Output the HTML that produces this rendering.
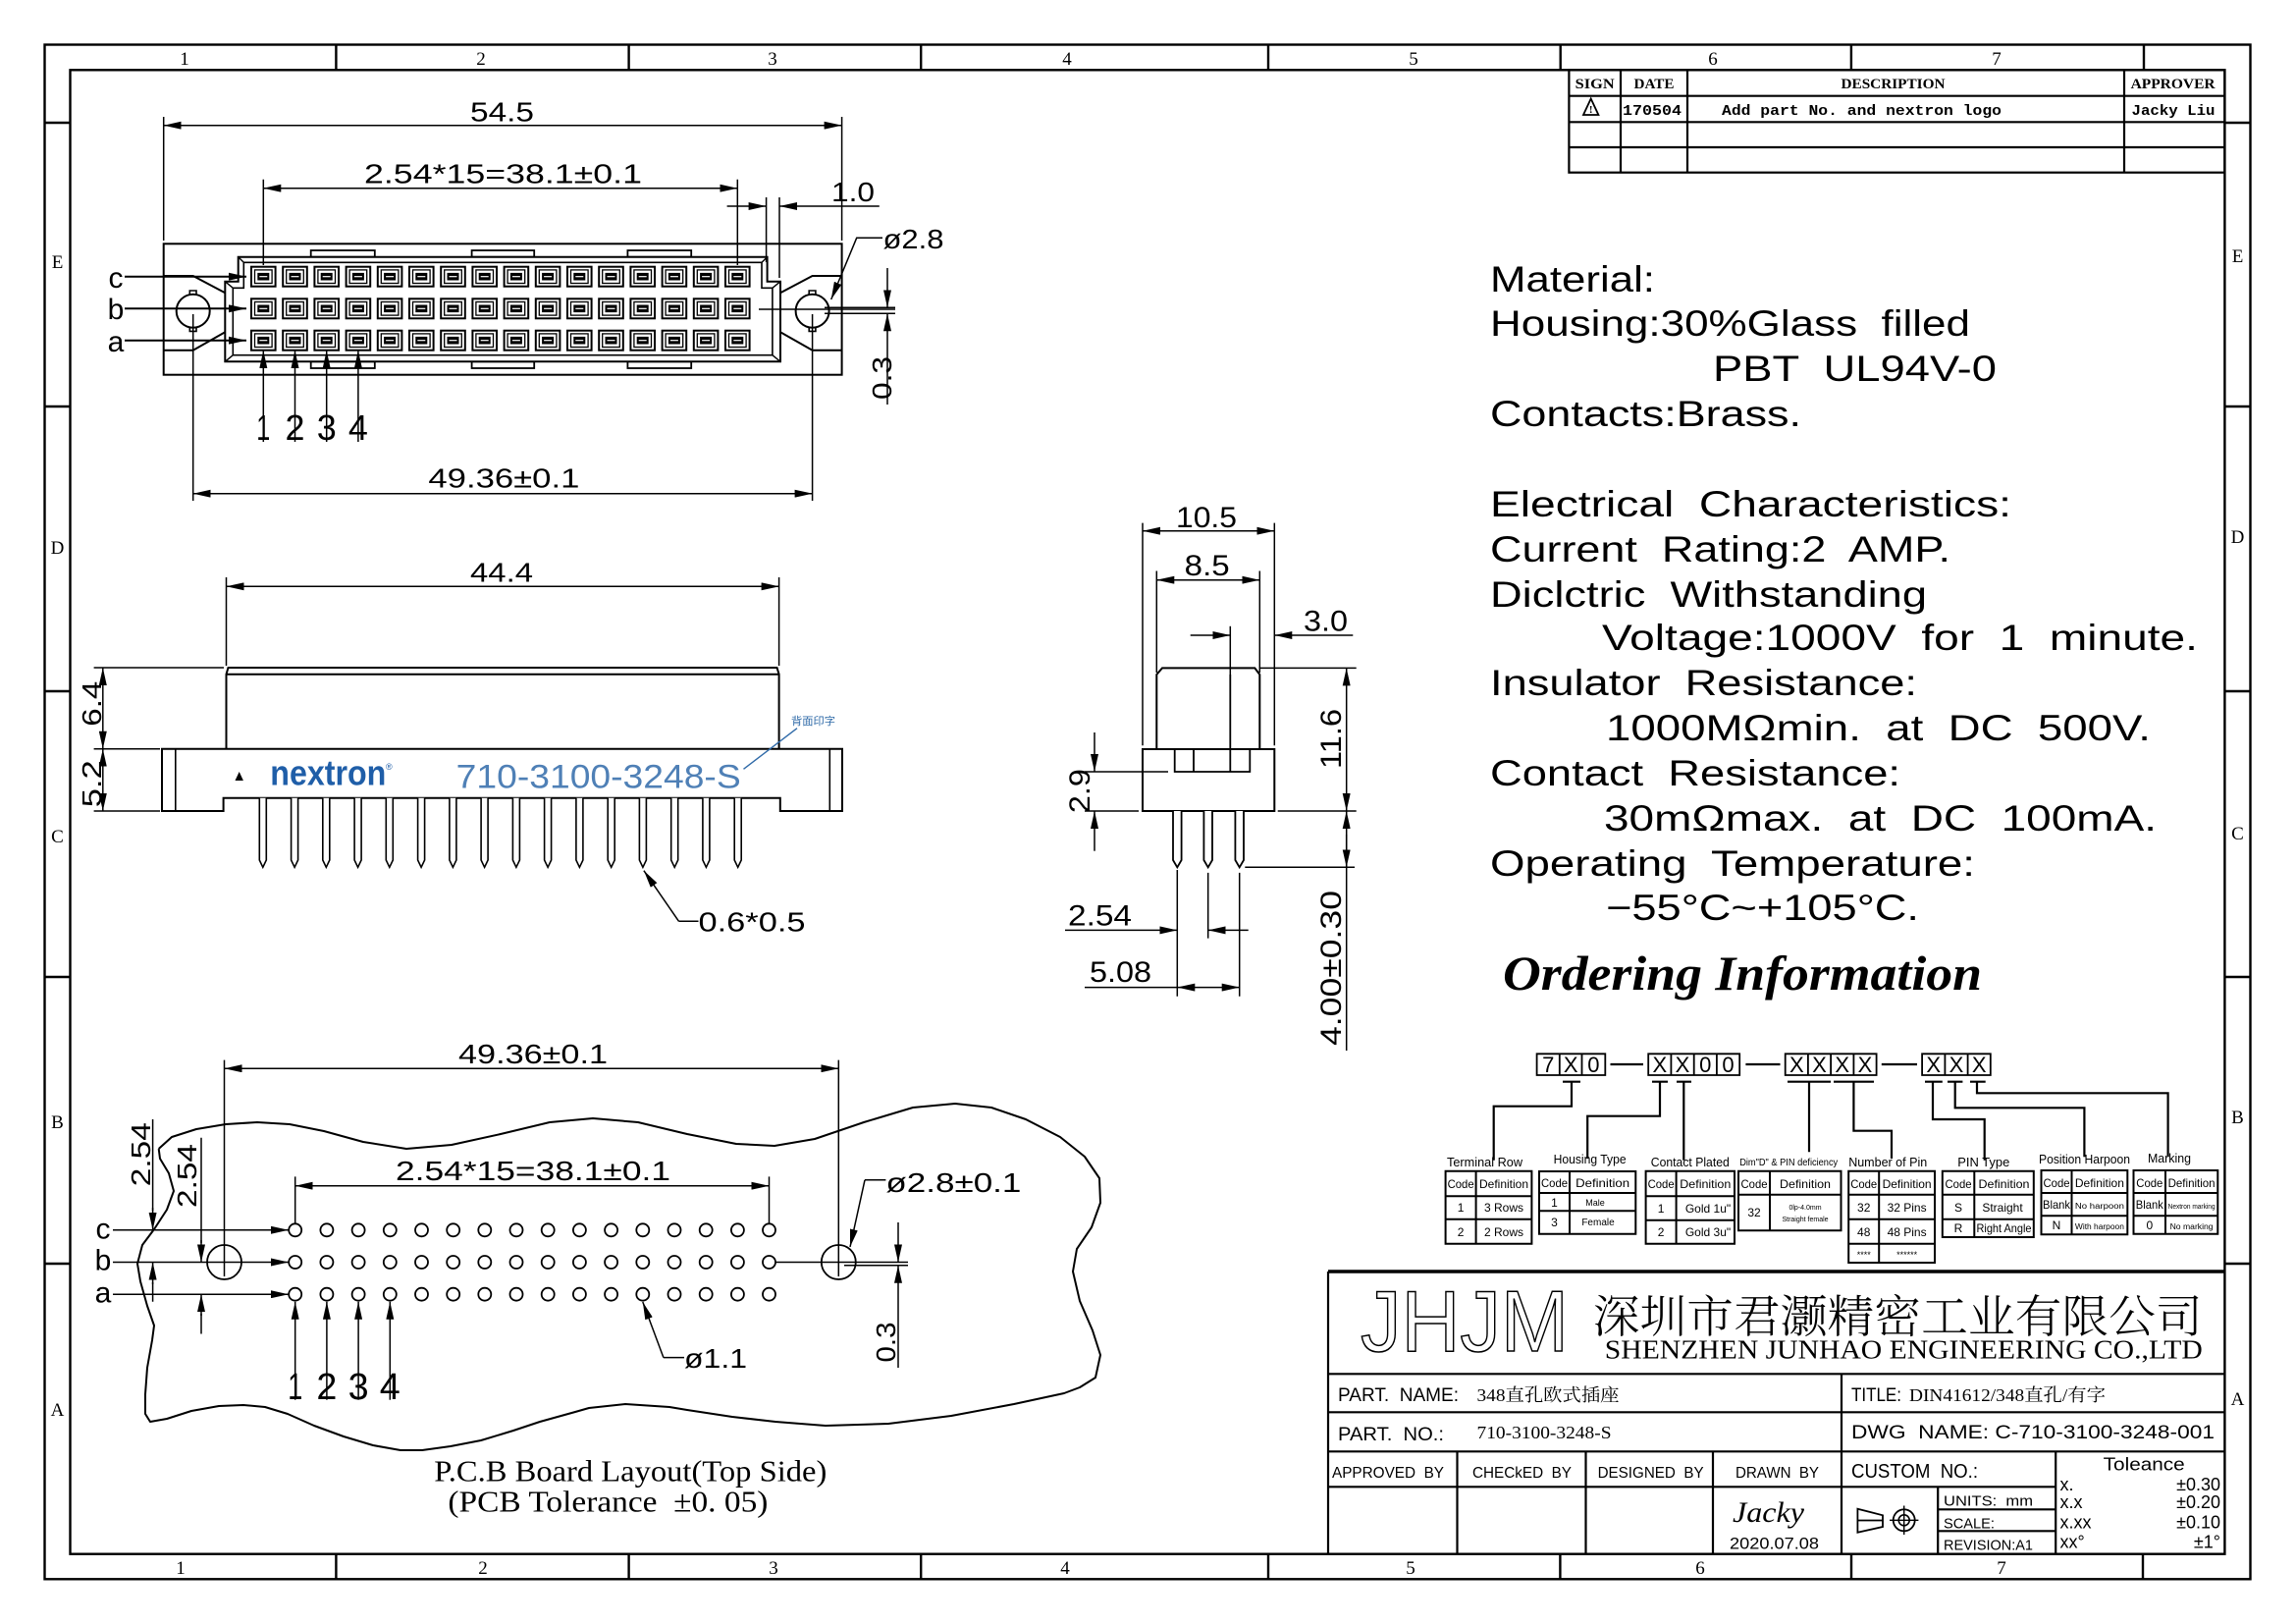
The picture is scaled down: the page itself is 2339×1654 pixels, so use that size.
<!DOCTYPE html>
<html><head><meta charset="utf-8"><style>
html,body{margin:0;padding:0;background:#fff;}
svg{display:block;}
text{font-family:"Liberation Sans","Noto Sans CJK SC",sans-serif;fill:#000;white-space:pre;}
.sf{font-family:"Liberation Serif","Noto Serif CJK SC",serif;}
.mb{font-family:"Liberation Mono",monospace;font-weight:bold;}
.bs{font-family:"Liberation Serif",serif;font-weight:bold;}
</style></head><body>
<svg width="2339" height="1654" viewBox="0 0 2339 1654" xmlns="http://www.w3.org/2000/svg" xmlns:xlink="http://www.w3.org/1999/xlink">
<defs>
<marker id="a" viewBox="0 0 18 8" refX="18" refY="4" markerWidth="18" markerHeight="8" markerUnits="userSpaceOnUse" orient="auto-start-reverse"><path d="M0,0L18,4L0,8Z" fill="#000"/></marker>
<g id="ct" fill="none" stroke="#000"><rect x="-12.3" y="-10" width="24.6" height="20" stroke-width="2"/><rect x="-8.8" y="-6.8" width="17.6" height="13.6" stroke-width="1.3"/><rect x="-6" y="-3.8" width="12" height="7.6" fill="#000" stroke="none"/><line x1="-4" y1="0" x2="4" y2="0" stroke="#fff" stroke-width="1.2"/></g>
<g id="crow">
<use xlink:href="#ct" x="268.3"/><use xlink:href="#ct" x="300.5"/><use xlink:href="#ct" x="332.7"/><use xlink:href="#ct" x="364.9"/><use xlink:href="#ct" x="397.1"/><use xlink:href="#ct" x="429.3"/><use xlink:href="#ct" x="461.5"/><use xlink:href="#ct" x="493.7"/><use xlink:href="#ct" x="525.9"/><use xlink:href="#ct" x="558.1"/><use xlink:href="#ct" x="590.3"/><use xlink:href="#ct" x="622.5"/><use xlink:href="#ct" x="654.7"/><use xlink:href="#ct" x="686.9"/><use xlink:href="#ct" x="719.1"/><use xlink:href="#ct" x="751.3"/>
</g>
<g id="hrow" fill="none" stroke="#000" stroke-width="1.8">
<circle cx="300.7" cy="0" r="6.5"/><circle cx="332.9" cy="0" r="6.5"/><circle cx="365.1" cy="0" r="6.5"/><circle cx="397.3" cy="0" r="6.5"/><circle cx="429.5" cy="0" r="6.5"/><circle cx="461.7" cy="0" r="6.5"/><circle cx="493.8" cy="0" r="6.5"/><circle cx="526" cy="0" r="6.5"/><circle cx="558.2" cy="0" r="6.5"/><circle cx="590.4" cy="0" r="6.5"/><circle cx="622.6" cy="0" r="6.5"/><circle cx="654.8" cy="0" r="6.5"/><circle cx="687" cy="0" r="6.5"/><circle cx="719.2" cy="0" r="6.5"/><circle cx="751.4" cy="0" r="6.5"/><circle cx="783.5" cy="0" r="6.5"/>
</g>
<path id="pin" d="M-3.5,0V63.3L0,70.6L3.5,63.3V0" fill="#fff" stroke="#000" stroke-width="1.6"/>
<path id="spin" d="M-4.3,0V50L0,57.3L4.3,50V0" fill="#fff" stroke="#000" stroke-width="1.8"/>
</defs>
<rect width="2339" height="1654" fill="#fff"/>

<!-- FRAME -->
<g fill="none" stroke="#000" stroke-width="2.4">
<rect x="45.5" y="45.5" width="2247" height="1562.8"/>
<rect x="71.5" y="71.3" width="2194.9" height="1511.4"/>
<path d="M342.4,45.5V71.3M640.6,45.5V71.3M938.2,45.5V71.3M1292,45.5V71.3M1589.7,45.5V71.3M1885.9,45.5V71.3M2184,45.5V71.3
M342.4,1582.7V1608.3M640.6,1582.7V1608.3M938.2,1582.7V1608.3M1292,1582.7V1608.3M1589.4,1582.7V1608.3M1886,1582.7V1608.3M2183,1582.7V1608.3
M45.5,125H71.5M45.5,414H71.5M45.5,704H71.5M45.5,995H71.5M45.5,1287H71.5
M2266.4,125H2292.5M2266.4,414H2292.5M2266.4,704H2292.5M2266.4,995H2292.5M2266.4,1287H2292.5"/>
</g>
<g class="sf" font-size="19" text-anchor="middle">
<text class="sf" x="188" y="66" text-anchor="middle">1</text><text class="sf" x="490" y="66" text-anchor="middle">2</text><text class="sf" x="787" y="66" text-anchor="middle">3</text><text class="sf" x="1087" y="66" text-anchor="middle">4</text><text class="sf" x="1440" y="66" text-anchor="middle">5</text><text class="sf" x="1745" y="66" text-anchor="middle">6</text><text class="sf" x="2034" y="66" text-anchor="middle">7</text>
<text class="sf" x="184" y="1603" text-anchor="middle">1</text><text class="sf" x="492" y="1603" text-anchor="middle">2</text><text class="sf" x="788" y="1603" text-anchor="middle">3</text><text class="sf" x="1085" y="1603" text-anchor="middle">4</text><text class="sf" x="1437" y="1603" text-anchor="middle">5</text><text class="sf" x="1732" y="1603" text-anchor="middle">6</text><text class="sf" x="2039" y="1603" text-anchor="middle">7</text>
<text class="sf" x="58.5" y="273" text-anchor="middle">E</text><text class="sf" x="58.5" y="564" text-anchor="middle">D</text><text class="sf" x="58.5" y="858" text-anchor="middle">C</text><text class="sf" x="58.5" y="1149" text-anchor="middle">B</text><text class="sf" x="58.5" y="1442" text-anchor="middle">A</text>
<text class="sf" x="2279.5" y="267" text-anchor="middle">E</text><text class="sf" x="2279.5" y="553" text-anchor="middle">D</text><text class="sf" x="2279.5" y="855" text-anchor="middle">C</text><text class="sf" x="2279.5" y="1144" text-anchor="middle">B</text><text class="sf" x="2279.5" y="1431" text-anchor="middle">A</text>
</g>

<!-- REVISION TABLE -->
<g fill="none" stroke="#000" stroke-width="2.2">
<rect x="1598.4" y="71.3" width="668" height="104.4"/>
<path d="M1598.4,97.7H2266.4M1598.4,124.3H2266.4M1598.4,150H2266.4M1651,71.3V175.7M1719,71.3V175.7M2164,71.3V175.7"/>
<polygon points="1613,117 1620.7,100.5 1628.4,117" stroke-width="1.8"/>
</g>
<text class="bs" x="1624.7" y="90" font-size="15" text-anchor="middle" textLength="40" lengthAdjust="spacingAndGlyphs">SIGN</text>
<text class="bs" x="1685" y="90" font-size="15" text-anchor="middle" textLength="41" lengthAdjust="spacingAndGlyphs">DATE</text>
<text class="bs" x="1928.5" y="90" font-size="15" text-anchor="middle" textLength="106" lengthAdjust="spacingAndGlyphs">DESCRIPTION</text>
<text class="bs" x="2213.6" y="90" font-size="15" text-anchor="middle" textLength="86" lengthAdjust="spacingAndGlyphs">APPROVER</text>
<text class="bs" x="1620.7" y="115" font-size="11" text-anchor="middle">!</text>
<text class="mb" x="1653" y="117" font-size="15" textLength="60" lengthAdjust="spacingAndGlyphs">170504</text>
<text class="mb" x="1754" y="117" font-size="15" textLength="285" lengthAdjust="spacingAndGlyphs">Add part No. and nextron logo</text>
<text class="mb" x="2171.5" y="117" font-size="15" textLength="85" lengthAdjust="spacingAndGlyphs">Jacky Liu</text>

<!-- TOP VIEW -->
<g fill="none" stroke="#000" stroke-width="2">
<rect x="166.7" y="248.3" width="690.9" height="133.4"/>
<rect x="316.7" y="255" width="65.1" height="6.7" stroke-width="1.8"/><rect x="480.6" y="255" width="63.6" height="6.7" stroke-width="1.8"/><rect x="639.4" y="255" width="64.8" height="6.7" stroke-width="1.8"/>
<rect x="316.7" y="368.3" width="65.1" height="6.7" stroke-width="1.8"/><rect x="480.6" y="368.3" width="63.6" height="6.7" stroke-width="1.8"/><rect x="639.4" y="368.3" width="64.8" height="6.7" stroke-width="1.8"/>
<path d="M242.7,261.7H781.6V286.7H795V368.3H229.3V286.7H242.7Z" fill="#fff"/>
<path d="M248.3,267.3H776V293.3H786.9V361.7H237.3V293.3H248.3Z" stroke-width="1.6"/>
<path d="M242.7,261.7L248.3,267.3M781.6,261.7L776,267.3M229.3,286.7L237.3,293.3M795,286.7L786.9,293.3M229.3,368.3L237.3,361.7M795,368.3L786.9,361.7" stroke-width="1.4"/>
<path d="M166.7,281H196.7L229.3,298.3M166.7,356.7H196.7L229.3,338.3M857.6,281H827.6L795,298.3M857.6,356.7H827.6L795,338.3"/>
<circle cx="196.7" cy="316.7" r="17"/><circle cx="827.6" cy="316.7" r="17"/>
<path d="M193.3,300V296H200V300M193.3,333.4V337.4H200V333.4M824.2,300V296H830.9V300M824.2,333.4V337.4H830.9V333.4" stroke-width="1.6"/>
</g>
<use xlink:href="#crow" y="281.7"/><use xlink:href="#crow" y="314.3"/><use xlink:href="#crow" y="346.7"/>
<g fill="none" stroke="#000" stroke-width="1.5">
<line x1="166.7" y1="127.7" x2="857.6" y2="127.7" marker-start="url(#a)" marker-end="url(#a)"/>
<path d="M166.7,119V245M857.6,119V245"/>
<line x1="268.3" y1="191.7" x2="751.3" y2="191.7" marker-start="url(#a)" marker-end="url(#a)"/>
<path d="M268.3,182.7V270M751.3,182.7V270"/>
<line x1="740.6" y1="210" x2="780.6" y2="210" marker-end="url(#a)"/>
<line x1="895.8" y1="210" x2="794" y2="210" marker-end="url(#a)"/>
<path d="M780.6,201V267M794,201V283"/>
<polyline points="899,242.3 872.7,242.3 846.7,305" marker-end="url(#a)"/>
<line x1="904" y1="273" x2="904" y2="313.3" marker-end="url(#a)"/>
<line x1="904" y1="412" x2="904" y2="319.3" marker-end="url(#a)"/>
<path d="M773,315H912M840,313.3H912M840,319.3H912"/>
<path d="M196.7,320V510M827.6,320V510"/>
<line x1="196.7" y1="502.7" x2="827.6" y2="502.7" marker-start="url(#a)" marker-end="url(#a)"/>
<line x1="127" y1="281.7" x2="251" y2="281.7" marker-end="url(#a)" stroke-width="2"/>
<line x1="127" y1="314.3" x2="251" y2="314.3" marker-end="url(#a)" stroke-width="2"/>
<line x1="127" y1="346.7" x2="251" y2="346.7" marker-end="url(#a)" stroke-width="2"/>
<line x1="268.3" y1="450" x2="268.3" y2="357" marker-end="url(#a)"/>
<line x1="300.5" y1="450" x2="300.5" y2="357" marker-end="url(#a)"/>
<line x1="332.7" y1="450" x2="332.7" y2="357" marker-end="url(#a)"/>
<line x1="364.9" y1="450" x2="364.9" y2="357" marker-end="url(#a)"/>
</g>
<g font-size="28">
<text x="479" y="123.3" textLength="65" lengthAdjust="spacingAndGlyphs">54.5</text>
<text x="371" y="186.7" textLength="283" lengthAdjust="spacingAndGlyphs">2.54*15=38.1±0.1</text>
<text x="847" y="205" textLength="44" lengthAdjust="spacingAndGlyphs">1.0</text>
<text x="899.5" y="253" textLength="62" lengthAdjust="spacingAndGlyphs">ø2.8</text>
<text transform="translate(908,385) rotate(-90)" text-anchor="middle" textLength="44" lengthAdjust="spacingAndGlyphs">0.3</text>
<text x="436.4" y="496.7" textLength="154" lengthAdjust="spacingAndGlyphs">49.36±0.1</text>
<text x="118" y="293" text-anchor="middle" font-size="30">c</text>
<text x="118" y="325" text-anchor="middle" font-size="30">b</text>
<text x="118" y="358" text-anchor="middle" font-size="30">a</text>
</g>
<g font-size="36" text-anchor="middle">
<text x="268.3" y="448" text-anchor="middle" textLength="14" lengthAdjust="spacingAndGlyphs">1</text>
<text x="300.5" y="448" text-anchor="middle" textLength="20" lengthAdjust="spacingAndGlyphs">2</text>
<text x="332.7" y="448" text-anchor="middle" textLength="20" lengthAdjust="spacingAndGlyphs">3</text>
<text x="364.9" y="448" text-anchor="middle" textLength="20" lengthAdjust="spacingAndGlyphs">4</text>
</g>

<!-- FRONT VIEW -->
<g fill="none" stroke="#000" stroke-width="2">
<path d="M230.5,762.7V686.7L232.5,680H791.5L793.6,686.7V762.7M230.5,686.7H793.6"/>
<path d="M165,762.7H858V826H794.8V812.7H227.6V826H165Z"/>
<path d="M178.8,762.7V826M845.3,762.7V826" stroke-width="1.6"/>
</g>
<g>
<use xlink:href="#pin" x="267.8" y="812.7"/><use xlink:href="#pin" x="300.1" y="812.7"/><use xlink:href="#pin" x="332.3" y="812.7"/><use xlink:href="#pin" x="364.6" y="812.7"/><use xlink:href="#pin" x="396.8" y="812.7"/><use xlink:href="#pin" x="429.1" y="812.7"/><use xlink:href="#pin" x="461.4" y="812.7"/><use xlink:href="#pin" x="493.6" y="812.7"/><use xlink:href="#pin" x="525.9" y="812.7"/><use xlink:href="#pin" x="558.1" y="812.7"/><use xlink:href="#pin" x="590.4" y="812.7"/><use xlink:href="#pin" x="622.7" y="812.7"/><use xlink:href="#pin" x="654.9" y="812.7"/><use xlink:href="#pin" x="687.2" y="812.7"/><use xlink:href="#pin" x="719.4" y="812.7"/><use xlink:href="#pin" x="751.7" y="812.7"/>
</g>
<g fill="none" stroke="#000" stroke-width="1.5">
<line x1="230.5" y1="597.3" x2="793.6" y2="597.3" marker-start="url(#a)" marker-end="url(#a)"/>
<path d="M230.5,588V678M793.6,588V678"/>
<path d="M95.6,680H228M95.6,762.7H163M95.6,826H163"/>
<line x1="104.8" y1="721" x2="104.8" y2="680" marker-end="url(#a)"/>
<line x1="104.8" y1="721" x2="104.8" y2="762.7" marker-end="url(#a)"/>
<line x1="104.8" y1="794" x2="104.8" y2="762.7" marker-end="url(#a)"/>
<line x1="104.8" y1="794" x2="104.8" y2="826" marker-end="url(#a)"/>
<line x1="691.5" y1="938.3" x2="655.9" y2="886.7" marker-end="url(#a)"/>
<path d="M691.5,938.3H711.5"/>
<line x1="812" y1="741.7" x2="757.5" y2="783.3" stroke="#2f6aa8" stroke-width="1.4"/>
</g>
<polygon points="239.5,795 243.7,786 247.9,795" fill="#000"/>
<text x="275.3" y="799.3" font-size="36" font-weight="bold" fill="#1f5ea8" style="fill:#1f5ea8" textLength="118" lengthAdjust="spacingAndGlyphs">nextron</text>
<text x="393" y="784" font-size="9" style="fill:#1f5ea8">®</text>
<text x="464.7" y="802.7" font-size="34" style="fill:#4f80b6" textLength="290" lengthAdjust="spacingAndGlyphs">710-3100-3248-S</text>
<text x="806" y="738" font-size="11" style="fill:#2f6aa8" textLength="45" lengthAdjust="spacingAndGlyphs">背面印字</text>
<g font-size="28">
<text x="479" y="592.7" textLength="64" lengthAdjust="spacingAndGlyphs">44.4</text>
<text transform="translate(103,716.7) rotate(-90)" text-anchor="middle" textLength="46" lengthAdjust="spacingAndGlyphs">6.4</text>
<text transform="translate(103,798.3) rotate(-90)" text-anchor="middle" textLength="48" lengthAdjust="spacingAndGlyphs">5.2</text>
<text x="711.5" y="948.3" textLength="109" lengthAdjust="spacingAndGlyphs">0.6*0.5</text>
</g>

<!-- SIDE VIEW -->
<g fill="none" stroke="#000" stroke-width="2">
<path d="M1178.3,763V687L1184,680.4H1278.3L1283.3,687V763"/>
<rect x="1164" y="763" width="134.3" height="63"/>
<path d="M1196.7,763V786H1216V763M1216,786H1273.3V763M1253.3,687V786" stroke-width="1.8"/>
</g>
<use xlink:href="#spin" x="1199.3" y="826"/><use xlink:href="#spin" x="1230.7" y="826"/><use xlink:href="#spin" x="1262.7" y="826"/>
<g fill="none" stroke="#000" stroke-width="1.5">
<line x1="1164" y1="540.7" x2="1298.3" y2="540.7" marker-start="url(#a)" marker-end="url(#a)"/>
<path d="M1164,532.6V759.3M1298.3,532.6V759.3"/>
<line x1="1178.3" y1="590.7" x2="1283.3" y2="590.7" marker-start="url(#a)" marker-end="url(#a)"/>
<path d="M1178.3,581.5V685M1283.3,581.5V685"/>
<line x1="1212.7" y1="647" x2="1253.3" y2="647" marker-end="url(#a)"/>
<line x1="1378.3" y1="647" x2="1298.3" y2="647" marker-end="url(#a)"/>
<path d="M1253.3,637.8V687"/>
<path d="M1105,786H1190M1105,826H1160"/>
<line x1="1115" y1="746" x2="1115" y2="786" marker-end="url(#a)"/>
<line x1="1115" y1="866.7" x2="1115" y2="826" marker-end="url(#a)"/>
<path d="M1282.7,680.4H1381.7M1301.7,826H1381.7M1268.3,883.3H1380"/>
<line x1="1371.7" y1="680.4" x2="1371.7" y2="826" marker-start="url(#a)" marker-end="url(#a)"/>
<line x1="1371.7" y1="1070" x2="1371.7" y2="826" marker-end="url(#a)"/>
<line x1="1371.7" y1="850" x2="1371.7" y2="883.3" marker-end="url(#a)"/>
<path d="M1199.3,886V1014.8M1230.7,888.9V955.6M1262.7,888.9V1014.8"/>
<line x1="1085" y1="947.4" x2="1199.3" y2="947.4" marker-end="url(#a)"/>
<line x1="1271.7" y1="947.4" x2="1230.7" y2="947.4" marker-end="url(#a)"/>
<line x1="1105" y1="1005.6" x2="1199.3" y2="1005.6"/>
<line x1="1231" y1="1005.6" x2="1199.3" y2="1005.6" marker-end="url(#a)"/>
<line x1="1231" y1="1005.6" x2="1262.7" y2="1005.6" marker-end="url(#a)"/>
</g>
<g font-size="30">
<text x="1198" y="537" textLength="62" lengthAdjust="spacingAndGlyphs">10.5</text>
<text x="1206.7" y="586" textLength="46" lengthAdjust="spacingAndGlyphs">8.5</text>
<text x="1328" y="642.6" textLength="45" lengthAdjust="spacingAndGlyphs">3.0</text>
<text transform="translate(1110,805.6) rotate(-90)" text-anchor="middle" textLength="45" lengthAdjust="spacingAndGlyphs">2.9</text>
<text transform="translate(1366,752.5) rotate(-90)" text-anchor="middle" textLength="61" lengthAdjust="spacingAndGlyphs">11.6</text>
<text transform="translate(1366,986) rotate(-90)" text-anchor="middle" textLength="158" lengthAdjust="spacingAndGlyphs">4.00±0.30</text>
<text x="1088" y="942.6" textLength="65" lengthAdjust="spacingAndGlyphs">2.54</text>
<text x="1110" y="1000" textLength="63" lengthAdjust="spacingAndGlyphs">5.08</text>
</g>

<!-- PCB LAYOUT -->
<polyline fill="none" stroke="#000" stroke-width="2" stroke-linejoin="round" points="161.7,1170 175,1158 200,1150 230,1145 262,1143 295,1145 330,1152 370,1163 414,1170 460,1166 510,1155 560,1143 604,1139 650,1143 700,1155 750,1165 789,1167 830,1160 880,1143 930,1128 973,1124 1010,1128 1045,1140 1080,1158 1105,1178 1120,1200 1121,1225 1112,1250 1097,1272 1093,1295 1100,1325 1113,1355 1121,1380 1116,1403 1100,1413 1084,1419 1033,1430 969,1442 905,1450 841,1452 790,1448 746,1443 700,1436 682,1433 637,1430 600,1434 586,1438 550,1448 523,1457 490,1467 459,1473 430,1477 408,1477 380,1472 350,1463 320,1452 293,1440 270,1433 248,1431 223,1432 195,1437 170,1445 153,1448 148,1440 148,1420 150,1393 155,1365 157,1350 150,1330 143,1305 140,1287 145,1268 157,1252 170,1232 177,1213 172,1195 163,1180 161.7,1170"/>
<use xlink:href="#hrow" y="1252.8"/><use xlink:href="#hrow" y="1285.5"/><use xlink:href="#hrow" y="1318.2"/>
<g fill="none" stroke="#000" stroke-width="1.8">
<circle cx="228.5" cy="1285.5" r="17.5"/><circle cx="854.3" cy="1285.5" r="17.5"/>
</g>
<g fill="none" stroke="#000" stroke-width="1.5">
<line x1="228.5" y1="1088.2" x2="854.3" y2="1088.2" marker-start="url(#a)" marker-end="url(#a)"/>
<path d="M228.5,1079.6V1300M854.3,1079.6V1300"/>
<line x1="115" y1="1252.8" x2="294" y2="1252.8" marker-end="url(#a)"/>
<line x1="115" y1="1285.5" x2="294" y2="1285.5" marker-end="url(#a)"/>
<line x1="115" y1="1318.2" x2="294" y2="1318.2" marker-end="url(#a)"/>
<path d="M790,1285.5H925M860,1288.8H925"/>
<line x1="915" y1="1245" x2="915" y2="1285.5" marker-end="url(#a)"/>
<line x1="915" y1="1393" x2="915" y2="1288.8" marker-end="url(#a)"/>
<line x1="300.7" y1="1207.7" x2="783.5" y2="1207.7" marker-start="url(#a)" marker-end="url(#a)"/>
<path d="M300.7,1198.4V1246.6M783.5,1198.4V1246.6"/>
<line x1="300.7" y1="1425.7" x2="300.7" y2="1325.8" marker-end="url(#a)"/>
<line x1="332.9" y1="1425.7" x2="332.9" y2="1325.8" marker-end="url(#a)"/>
<line x1="365.1" y1="1425.7" x2="365.1" y2="1325.8" marker-end="url(#a)"/>
<line x1="397.3" y1="1425.7" x2="397.3" y2="1325.8" marker-end="url(#a)"/>
<line x1="675.9" y1="1382.6" x2="654.8" y2="1326" marker-end="url(#a)"/>
<path d="M675.9,1382.6H697"/>
<line x1="881" y1="1201.8" x2="866" y2="1270" marker-end="url(#a)"/>
<path d="M881,1201.8H902.4"/>
<path d="M155.6,1140V1233M155.6,1306V1325.8M205,1158.8V1266M205,1338V1358.5"/>
<line x1="155.6" y1="1230" x2="155.6" y2="1252.8" marker-end="url(#a)"/>
<line x1="155.6" y1="1308" x2="155.6" y2="1285.5" marker-end="url(#a)"/>
<line x1="205" y1="1263" x2="205" y2="1285.5" marker-end="url(#a)"/>
<line x1="205" y1="1340" x2="205" y2="1318.2" marker-end="url(#a)"/>
</g>
<g font-size="28">
<text x="467" y="1083" textLength="152" lengthAdjust="spacingAndGlyphs">49.36±0.1</text>
<text x="403" y="1201.8" textLength="280" lengthAdjust="spacingAndGlyphs">2.54*15=38.1±0.1</text>
<text x="697" y="1393" textLength="64" lengthAdjust="spacingAndGlyphs">ø1.1</text>
<text x="902.4" y="1214" textLength="138" lengthAdjust="spacingAndGlyphs">ø2.8±0.1</text>
<text transform="translate(912,1367) rotate(-90)" text-anchor="middle" textLength="41" lengthAdjust="spacingAndGlyphs">0.3</text>
<text transform="translate(153,1175.7) rotate(-90)" text-anchor="middle" textLength="65" lengthAdjust="spacingAndGlyphs">2.54</text>
<text transform="translate(200,1197.5) rotate(-90)" text-anchor="middle" textLength="65" lengthAdjust="spacingAndGlyphs">2.54</text>
<text x="105" y="1261.7" text-anchor="middle" font-size="30">c</text>
<text x="105" y="1293.3" text-anchor="middle" font-size="30">b</text>
<text x="105" y="1326.7" text-anchor="middle" font-size="30">a</text>
</g>
<g font-size="38" text-anchor="middle">
<text x="300.7" y="1425" text-anchor="middle" textLength="15" lengthAdjust="spacingAndGlyphs">1</text>
<text x="332.9" y="1425" text-anchor="middle" textLength="21" lengthAdjust="spacingAndGlyphs">2</text>
<text x="365.1" y="1425" text-anchor="middle" textLength="21" lengthAdjust="spacingAndGlyphs">3</text>
<text x="397.3" y="1425" text-anchor="middle" textLength="21" lengthAdjust="spacingAndGlyphs">4</text>
</g>
<text class="sf" x="442.3" y="1508.3" font-size="31" textLength="400" lengthAdjust="spacingAndGlyphs">P.C.B Board Layout(Top Side)</text>
<text class="sf" x="456.4" y="1539.3" font-size="31" textLength="326" lengthAdjust="spacingAndGlyphs">(PCB Tolerance  ±0. 05)</text>

<!-- SPECIFICATION TEXT -->
<g font-size="37">
<text x="1518" y="297" textLength="168" lengthAdjust="spacingAndGlyphs">Material:</text>
<text x="1518" y="342" textLength="489" lengthAdjust="spacingAndGlyphs">Housing:30%Glass  filled</text>
<text x="1745" y="388" textLength="289" lengthAdjust="spacingAndGlyphs">PBT  UL94V-0</text>
<text x="1518" y="434" textLength="317" lengthAdjust="spacingAndGlyphs">Contacts:Brass.</text>
<text x="1518" y="526" textLength="531" lengthAdjust="spacingAndGlyphs">Electrical  Characteristics:</text>
<text x="1518" y="572" textLength="469" lengthAdjust="spacingAndGlyphs">Current  Rating:2  AMP.</text>
<text x="1518" y="618" textLength="445" lengthAdjust="spacingAndGlyphs">Diclctric  Withstanding</text>
<text x="1632" y="662" textLength="607" lengthAdjust="spacingAndGlyphs">Voltage:1000V  for  1  minute.</text>
<text x="1518" y="708" textLength="435" lengthAdjust="spacingAndGlyphs">Insulator  Resistance:</text>
<text x="1636" y="754" textLength="555" lengthAdjust="spacingAndGlyphs">1000MΩmin.  at  DC  500V.</text>
<text x="1518" y="800" textLength="418" lengthAdjust="spacingAndGlyphs">Contact  Resistance:</text>
<text x="1634" y="846" textLength="563" lengthAdjust="spacingAndGlyphs">30mΩmax.  at  DC  100mA.</text>
<text x="1518" y="892" textLength="494" lengthAdjust="spacingAndGlyphs">Operating  Temperature:</text>
<text x="1636" y="937" textLength="319" lengthAdjust="spacingAndGlyphs">−55°C~+105°C.</text>
</g>
<text class="sf" x="1531" y="1008" font-size="50" font-weight="bold" font-style="italic" textLength="488" lengthAdjust="spacingAndGlyphs">Ordering Information</text>

<!-- ORDERING CODE -->
<g fill="none" stroke="#000" stroke-width="1.8">
<path d="M1565.6,1073.3H1635.3V1095H1565.6ZM1588.8,1073.3V1095M1611.5,1073.3V1095"/>
<path d="M1679.2,1073.3H1772.2V1095H1679.2ZM1702.4,1073.3V1095M1725.7,1073.3V1095M1748.9,1073.3V1095"/>
<path d="M1818.7,1073.3H1911.6V1095H1818.7ZM1841.9,1073.3V1095M1865.1,1073.3V1095M1888.4,1073.3V1095"/>
<path d="M1958.1,1073.3H2027.8V1095H1958.1ZM1981.4,1073.3V1095M2004.6,1073.3V1095"/>
<path d="M1640.5,1084H1674M1778.4,1084H1813.5M1916.8,1084H1953" stroke-width="2.2"/>
<path stroke-width="2.2" d="M1592,1101.7H1610M1601,1101.7V1126.7H1521.7V1181.7
M1683,1101.7H1699M1691,1101.7V1136.7H1617.2V1180
M1708,1101.7H1723M1715.3,1101.7V1181.7
M1821,1101.7H1865M1843,1101.7V1173.3
M1868,1101.7H1909M1888.4,1101.7V1151.7H1927V1180
M1961,1101.7H1978.8M1969,1101.7V1140H2021.7V1181.7
M1984,1101.7H1999.4M1991.7,1101.7V1128.3H2123.4V1178.3
M2007,1101.7H2022.7M2014,1101.7V1113.3H2208.6V1178.3"/>
</g>
<g font-size="22" text-anchor="middle">
<text x="1577.2" y="1092" text-anchor="middle">7</text><text x="1600.2" y="1092" text-anchor="middle">X</text><text x="1623.4" y="1092" text-anchor="middle">0</text>
<text x="1690.8" y="1092" text-anchor="middle">X</text><text x="1714" y="1092" text-anchor="middle">X</text><text x="1737.3" y="1092" text-anchor="middle">0</text><text x="1760.5" y="1092" text-anchor="middle">0</text>
<text x="1830.3" y="1092" text-anchor="middle">X</text><text x="1853.5" y="1092" text-anchor="middle">X</text><text x="1876.7" y="1092" text-anchor="middle">X</text><text x="1900" y="1092" text-anchor="middle">X</text>
<text x="1969.7" y="1092" text-anchor="middle">X</text><text x="1993" y="1092" text-anchor="middle">X</text><text x="2016.2" y="1092" text-anchor="middle">X</text>
</g>
<g font-size="13">
<text x="1474" y="1188" textLength="77" lengthAdjust="spacingAndGlyphs">Terminal Row</text>
<text x="1582.6" y="1185" textLength="74" lengthAdjust="spacingAndGlyphs">Housing Type</text>
<text x="1681.8" y="1188" textLength="80" lengthAdjust="spacingAndGlyphs">Contact Plated</text>
<text x="1772.2" y="1187" font-size="10" textLength="100" lengthAdjust="spacingAndGlyphs">Dim"D" &amp; PIN deficiency</text>
<text x="1883.2" y="1188" textLength="80" lengthAdjust="spacingAndGlyphs">Number of Pin</text>
<text x="1994.3" y="1188" textLength="53" lengthAdjust="spacingAndGlyphs">PIN Type</text>
<text x="2077" y="1185" textLength="93" lengthAdjust="spacingAndGlyphs">Position Harpoon</text>
<text x="2188" y="1184" textLength="44" lengthAdjust="spacingAndGlyphs">Marking</text>
</g>
<g fill="none" stroke="#000" stroke-width="2">
<path d="M1472.6,1192.7H1560.4V1266.7H1472.6ZM1503.6,1192.7V1266.7M1472.6,1218.3H1560.4M1472.6,1241.7H1560.4"/>
<path d="M1568,1193H1666.3V1256.7H1568ZM1599,1193V1256.7M1568,1215H1666.3M1568,1233.3H1666.3"/>
<path d="M1676.6,1192.7H1767V1266.7H1676.6ZM1707.6,1192.7V1266.7M1676.6,1218.3H1767M1676.6,1242.7H1767"/>
<path d="M1771,1192.7H1875.5V1253.3H1771ZM1803,1192.7V1253.3M1771,1216.7H1875.5"/>
<path d="M1883.2,1192.7H1971V1286H1883.2ZM1914.2,1192.7V1286M1883.2,1216.7H1971M1883.2,1241.7H1971M1883.2,1266.7H1971"/>
<path d="M1978.8,1192.7H2071.8V1260H1978.8ZM2011.3,1192.7V1260M1978.8,1216.7H2071.8M1978.8,1241.7H2071.8"/>
<path d="M2079.5,1192H2167.3V1257.3H2079.5ZM2110.5,1192V1257.3M2079.5,1215H2167.3M2079.5,1238.3H2167.3"/>
<path d="M2173.5,1192H2259.3V1256.7H2173.5ZM2206,1192V1256.7M2173.5,1215H2259.3M2173.5,1238.3H2259.3"/>
</g>
<g font-size="12" text-anchor="middle">
<text x="1488.1" y="1210" text-anchor="middle" textLength="27" lengthAdjust="spacingAndGlyphs">Code</text><text x="1532" y="1210" text-anchor="middle" textLength="50" lengthAdjust="spacingAndGlyphs">Definition</text>
<text x="1488.1" y="1234" text-anchor="middle">1</text><text x="1532" y="1234" text-anchor="middle">3 Rows</text>
<text x="1488.1" y="1259" text-anchor="middle">2</text><text x="1532" y="1259" text-anchor="middle">2 Rows</text>
<text x="1583.5" y="1209" text-anchor="middle" textLength="27" lengthAdjust="spacingAndGlyphs">Code</text><text x="1632.6" y="1209" text-anchor="middle" textLength="55" lengthAdjust="spacingAndGlyphs">Definition</text>
<text x="1583.5" y="1229" text-anchor="middle">1</text><text x="1625" y="1228" text-anchor="middle" font-size="9">Male</text>
<text x="1583.5" y="1249" text-anchor="middle">3</text><text x="1628" y="1248" text-anchor="middle" font-size="10">Female</text>
<text x="1692.1" y="1210" text-anchor="middle" textLength="27" lengthAdjust="spacingAndGlyphs">Code</text><text x="1737.3" y="1210" text-anchor="middle" textLength="52" lengthAdjust="spacingAndGlyphs">Definition</text>
<text x="1692.1" y="1235" text-anchor="middle">1</text><text x="1740" y="1235" text-anchor="middle">Gold 1u"</text>
<text x="1692.1" y="1259" text-anchor="middle">2</text><text x="1740" y="1259" text-anchor="middle">Gold 3u"</text>
<text x="1787" y="1210" text-anchor="middle" textLength="27" lengthAdjust="spacingAndGlyphs">Code</text><text x="1839" y="1210" text-anchor="middle" textLength="52" lengthAdjust="spacingAndGlyphs">Definition</text>
<text x="1787" y="1239" text-anchor="middle">32</text><text x="1839" y="1232" text-anchor="middle" font-size="7">0lp-4.0mm</text><text x="1839" y="1244" text-anchor="middle" font-size="7">Straight female</text>
<text x="1898.7" y="1210" text-anchor="middle" textLength="27" lengthAdjust="spacingAndGlyphs">Code</text><text x="1942.6" y="1210" text-anchor="middle" textLength="50" lengthAdjust="spacingAndGlyphs">Definition</text>
<text x="1898.7" y="1234" text-anchor="middle">32</text><text x="1942.6" y="1234" text-anchor="middle">32 Pins</text>
<text x="1898.7" y="1259" text-anchor="middle">48</text><text x="1942.6" y="1259" text-anchor="middle">48 Pins</text>
<text x="1898.7" y="1281" text-anchor="middle" font-size="9">****</text><text x="1942.6" y="1281" text-anchor="middle" font-size="9">******</text>
<text x="1995" y="1210" text-anchor="middle" textLength="27" lengthAdjust="spacingAndGlyphs">Code</text><text x="2041.5" y="1210" text-anchor="middle" textLength="52" lengthAdjust="spacingAndGlyphs">Definition</text>
<text x="1995" y="1234" text-anchor="middle">S</text><text x="2040" y="1234" text-anchor="middle">Straight</text>
<text x="1995" y="1255" text-anchor="middle">R</text><text x="2041.5" y="1255" text-anchor="middle" textLength="56" lengthAdjust="spacingAndGlyphs">Right Angle</text>
<text x="2095" y="1209" text-anchor="middle" textLength="27" lengthAdjust="spacingAndGlyphs">Code</text><text x="2138.9" y="1209" text-anchor="middle" textLength="50" lengthAdjust="spacingAndGlyphs">Definition</text>
<text x="2095" y="1231" text-anchor="middle" textLength="28" lengthAdjust="spacingAndGlyphs">Blank</text><text x="2138.9" y="1231" text-anchor="middle" font-size="8" textLength="50" lengthAdjust="spacingAndGlyphs">No harpoon</text>
<text x="2095" y="1252" text-anchor="middle">N</text><text x="2138.9" y="1252" text-anchor="middle" font-size="8" textLength="50" lengthAdjust="spacingAndGlyphs">With harpoon</text>
<text x="2189.8" y="1209" text-anchor="middle" textLength="27" lengthAdjust="spacingAndGlyphs">Code</text><text x="2232.6" y="1209" text-anchor="middle" textLength="48" lengthAdjust="spacingAndGlyphs">Definition</text>
<text x="2189.8" y="1231" text-anchor="middle" textLength="28" lengthAdjust="spacingAndGlyphs">Blank</text><text x="2232.6" y="1231" text-anchor="middle" font-size="7" textLength="48" lengthAdjust="spacingAndGlyphs">Nextron marking</text>
<text x="2189.8" y="1252" text-anchor="middle">0</text><text x="2232.6" y="1252" text-anchor="middle" font-size="8" textLength="44" lengthAdjust="spacingAndGlyphs">No marking</text>
</g>

<!-- TITLE BLOCK -->
<g fill="none" stroke="#000" stroke-width="2.2">
<path d="M1353,1295H2266.4" stroke-width="3.5"/>
<path d="M1353,1295V1582.7M1353,1399.3H2266.4M1353,1438.3H2266.4M1353,1478.3H2266.4M1353,1514.3H2094.2
M1876,1399.3V1582.7M1484.5,1478.3V1582.7M1615.5,1478.3V1582.7M1745,1478.3V1582.7M2094.2,1478.3V1582.7M1974.2,1514.3V1582.7
M1974.2,1537.3H2094.2M1974.2,1559.3H2094.2"/>
<path d="M1892.4,1536.7L1918,1543.3V1555L1892.4,1560.7ZM1892.4,1548.5H1918" stroke-width="1.8"/>
<circle cx="1939.7" cy="1548.3" r="11" stroke-width="1.8"/><circle cx="1939.7" cy="1548.3" r="5.5" stroke-width="1.6"/>
<path d="M1925,1548.3H1954.4M1939.7,1533.5V1563" stroke-width="1.4"/>
</g>
<text x="1386" y="1376" font-size="88" style="fill:none;stroke:#000;stroke-width:1.5" textLength="212" lengthAdjust="spacingAndGlyphs">JHJM</text>
<text class="sf" x="1622.7" y="1357" font-size="46" font-weight="300" textLength="621" lengthAdjust="spacingAndGlyphs">深圳市君灏精密工业有限公司</text>
<text class="sf" x="1634.8" y="1383.3" font-size="27" textLength="609" lengthAdjust="spacingAndGlyphs">SHENZHEN JUNHAO ENGINEERING CO.,LTD</text>
<text x="1363" y="1427" font-size="19" textLength="123" lengthAdjust="spacingAndGlyphs">PART.  NAME:</text>
<text class="sf" x="1504.5" y="1427" font-size="18" textLength="145" lengthAdjust="spacingAndGlyphs">348直孔欧式插座</text>
<text x="1886" y="1427" font-size="19" textLength="51" lengthAdjust="spacingAndGlyphs">TITLE:</text>
<text class="sf" x="1945" y="1427" font-size="18" textLength="200" lengthAdjust="spacingAndGlyphs">DIN41612/348直孔/有字</text>
<text x="1363" y="1467" font-size="19" textLength="108" lengthAdjust="spacingAndGlyphs">PART.  NO.:</text>
<text class="sf" x="1504.5" y="1465" font-size="18" textLength="137" lengthAdjust="spacingAndGlyphs">710-3100-3248-S</text>
<text x="1886" y="1465" font-size="19" textLength="370" lengthAdjust="spacingAndGlyphs">DWG  NAME: C-710-3100-3248-001</text>
<g font-size="16">
<text x="1357" y="1505" textLength="114" lengthAdjust="spacingAndGlyphs">APPROVED  BY</text>
<text x="1500" y="1505" textLength="101" lengthAdjust="spacingAndGlyphs">CHECkED  BY</text>
<text x="1627.6" y="1505" textLength="108" lengthAdjust="spacingAndGlyphs">DESIGNED  BY</text>
<text x="1768" y="1505" textLength="85" lengthAdjust="spacingAndGlyphs">DRAWN  BY</text>
</g>
<text x="1886" y="1505" font-size="20" textLength="129" lengthAdjust="spacingAndGlyphs">CUSTOM  NO.:</text>
<text x="2142.7" y="1497.3" font-size="18" textLength="83" lengthAdjust="spacingAndGlyphs">Toleance</text>
<text class="sf" x="1765" y="1550" font-size="30" font-style="italic" textLength="73" lengthAdjust="spacingAndGlyphs">Jacky</text>
<text x="1762" y="1577.3" font-size="17" textLength="91" lengthAdjust="spacingAndGlyphs">2020.07.08</text>
<text x="1980" y="1533.3" font-size="15" textLength="91" lengthAdjust="spacingAndGlyphs">UNITS:  mm</text>
<text x="1980" y="1556.7" font-size="15" textLength="52" lengthAdjust="spacingAndGlyphs">SCALE:</text>
<text x="1980" y="1578.3" font-size="15" textLength="91" lengthAdjust="spacingAndGlyphs">REVISION:A1</text>
<g font-size="18">
<text x="2098.5" y="1518">x.</text><text x="2262" y="1518" text-anchor="end">±0.30</text>
<text x="2098.5" y="1536">x.x</text><text x="2262" y="1536" text-anchor="end">±0.20</text>
<text x="2098.5" y="1556.7">x.xx</text><text x="2262" y="1556.7" text-anchor="end">±0.10</text>
<text x="2098.5" y="1576.7">xx°</text><text x="2262" y="1576.7" text-anchor="end">±1°</text>
</g>
</svg>
</body></html>
